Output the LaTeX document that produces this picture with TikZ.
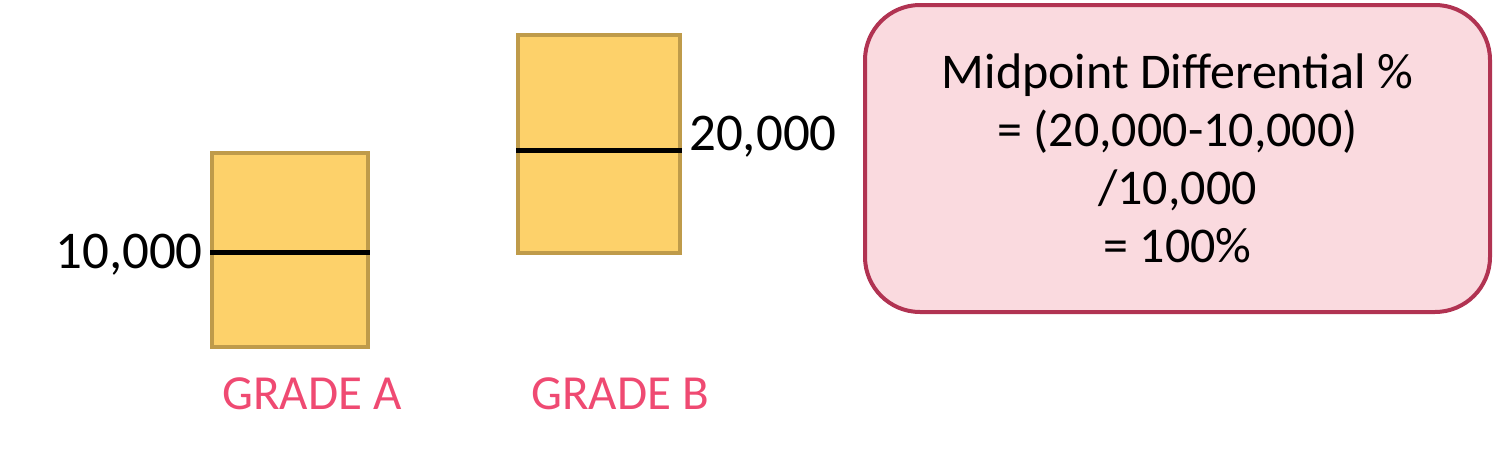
\documentclass[tikz,border=0pt]{standalone}
\usepackage{fontspec}
\setmainfont{Carlito}
\definecolor{barfill}{HTML}{FDD16A}
\definecolor{barline}{HTML}{BF9B4A}
\definecolor{boxfill}{HTML}{FADADF}
\definecolor{boxline}{HTML}{B13352}
\definecolor{gradecol}{HTML}{EF4A72}
\tikzset{
  bar/.style={draw=barline, fill=barfill, line width=4pt, inner sep=0pt},
  midline/.style={line width=5pt, black},
  value/.style={font=\fontsize{53}{60}\selectfont, inner sep=0pt},
  grade/.style={font=\fontsize{49}{58}\selectfont, text=gradecol, inner sep=0pt},
  formula/.style={draw=boxline, fill=boxfill, line width=4pt, rounded corners=55pt,
    minimum width=625pt, minimum height=307pt, align=center,
    font=\fontsize{50}{58}\selectfont, inner sep=0pt}
}
\begin{document}
\begin{tikzpicture}[x=1pt,y=-1pt]
\useasboundingbox (0,0) rectangle (1494,471);
\node[bar, minimum width=156pt, minimum height=194pt] (A) at (290,250) {};
\node[bar, minimum width=162pt, minimum height=218pt] (B) at (599,144) {};
\draw[midline] ([yshift=-2pt]A.west) -- ([yshift=-2pt]A.east);
\draw[midline] ([yshift=-6pt]B.west) -- ([yshift=-6pt]B.east);
\node[value, anchor=east] (va) at (203,255) {10,000};
\node[value, anchor=west] (vb) at (689,137) {20,000};
\node[grade] (ga) at (312,394) {GRADE A};
\node[grade] (gb) at (620,394) {GRADE B};
\node[formula] (F) at (1177.5,158.5) {Midpoint Differential \%\\= (20,000-10,000)\\/10,000\\= 100\%};
\end{tikzpicture}
\end{document}
